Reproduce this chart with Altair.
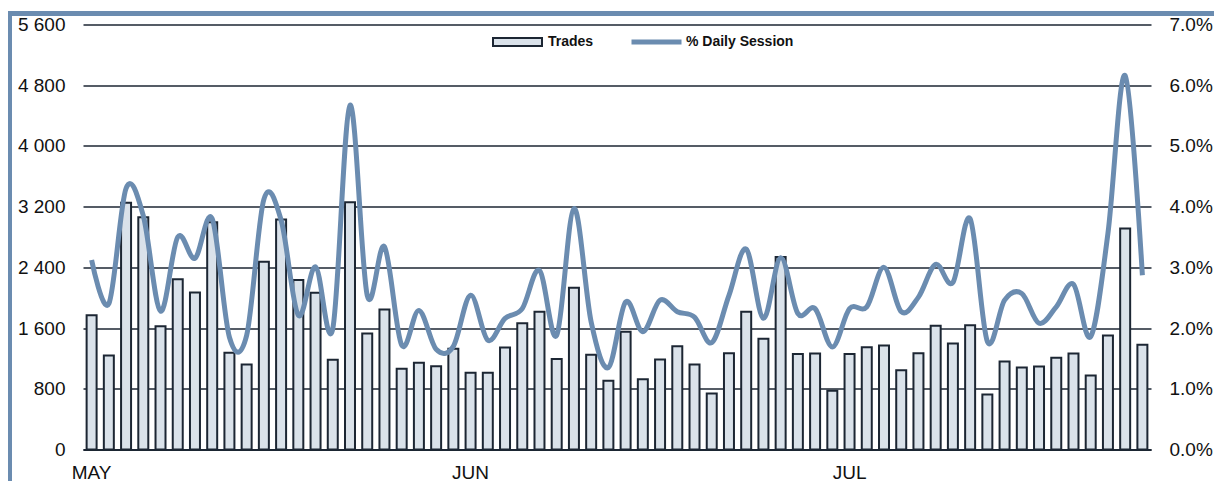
import altair as alt
import pandas as pd

# Daily trades (bars, left axis)
trades = [1770, 1238, 3250, 3061, 1625, 2244, 2068, 2995, 1274, 1120,
          2475, 3030, 2235, 2064, 1181, 3258, 1528, 1844, 1063, 1142,
          1098, 1326, 1010, 1010, 1344, 1664, 1814, 1194, 2130, 1247,
          905, 1550, 927, 1186, 1361, 1120, 738, 1269, 1814, 1458,
          2538, 1260, 1265, 773, 1260, 1348, 1370, 1045, 1269, 1629,
          1397, 1638, 725, 1159, 1080, 1093, 1208, 1265, 975, 1502,
          2912, 1379]

# % of daily session (line, right axis)
pct = [3.12, 2.40, 4.30, 3.85, 2.28, 3.50, 3.15, 3.80, 1.85, 1.88,
       4.12, 3.78, 2.21, 3.01, 1.99, 5.67, 2.54, 3.34, 1.72, 2.29,
       1.65, 1.70, 2.54, 1.80, 2.16, 2.32, 2.95, 1.88, 3.97, 2.10,
       1.35, 2.43, 1.94, 2.46, 2.27, 2.18, 1.76, 2.54, 3.30, 2.16,
       3.16, 2.24, 2.32, 1.69, 2.32, 2.35, 3.00, 2.27, 2.51, 3.05,
       2.75, 3.80, 1.78, 2.46, 2.57, 2.08, 2.35, 2.72, 1.86, 3.56,
       6.16, 2.87]

month_pos = [0, 22, 44]
month_names = ["MAY", "JUN", "JUL"]

left_ticks = [0, 800, 1600, 2400, 3200, 4000, 4800, 5600]
right_ticks = [0, 1, 2, 3, 4, 5, 6, 7]

df = pd.DataFrame({"day": list(range(len(trades))), "trades": trades, "pct": pct})

FONT = "Liberation Sans"
DARK = "#1c2633"
BLUE = "#6b8cb0"
BARFILL = "#dae2ea"

pos_arr = "[" + ",".join(str(p) for p in month_pos) + "]"
name_arr = "[" + ",".join("'" + n + "'" for n in month_names) + "]"
x_label_expr = f"indexof({pos_arr}, datum.value) >= 0 ? {name_arr}[indexof({pos_arr}, datum.value)] : ''"

x_enc = alt.X(
    "day:O",
    scale=alt.Scale(paddingInner=0.42),
    axis=alt.Axis(
        title=None, values=month_pos, labelExpr=x_label_expr, labelAngle=0,
        ticks=False, domain=True, domainColor=DARK, domainWidth=2,
        labelFont=FONT, labelFontSize=19, labelColor="#111111", labelPadding=14,
        labelAlign="center", labelBaseline="top", grid=False,
    ),
)

bars = alt.Chart(df).transform_calculate(series="'Trades'").mark_bar(
    stroke=DARK, strokeWidth=2
).encode(
    x=x_enc,
    y=alt.Y(
        "trades:Q",
        scale=alt.Scale(domain=[0, 5600], nice=False),
        axis=alt.Axis(
            title=None, values=left_ticks, orient="left",
            labelExpr="replace(format(datum.value, ','), ',', ' ')",
            ticks=False, domain=False, grid=True, gridColor=DARK, gridWidth=1.5,
            gridOpacity=1, labelFont=FONT, labelFontSize=19, labelColor="#111111",
            labelPadding=18,
        ),
    ),
    fill=alt.Fill(
        "series:N",
        scale=alt.Scale(domain=["Trades"], range=[BARFILL]),
        legend=alt.Legend(
            title=None, orient="none", legendX=409, legendY=-8,
            symbolType="M-1,-0.16L1,-0.16L1,0.16L-1,0.16Z", symbolSize=2401,
            symbolStrokeColor=DARK, symbolStrokeWidth=2, symbolOpacity=1,
            labelFont=FONT, labelFontSize=14, labelFontWeight="bold",
            labelColor="#111111", labelOffset=5,
        ),
    ),
)

line = alt.Chart(df).transform_calculate(series2="'% Daily Session'").mark_line(
    strokeWidth=5, interpolate="cardinal"
).encode(
    x=alt.X("day:O"),
    y=alt.Y(
        "pct:Q",
        scale=alt.Scale(domain=[0, 7], nice=False),
        axis=alt.Axis(
            title=None, values=right_ticks, orient="right",
            labelExpr="format(datum.value, '.1f') + '%'",
            ticks=False, domain=False, grid=False,
            labelFont=FONT, labelFontSize=19, labelColor="#111111",
            labelPadding=18,
        ),
    ),
    stroke=alt.Stroke(
        "series2:N",
        scale=alt.Scale(domain=["% Daily Session"], range=[BLUE]),
        legend=alt.Legend(
            title=None, orient="none", legendX=546, legendY=-10,
            symbolType="stroke", symbolSize=2500, symbolStrokeWidth=5,
            labelFont=FONT, labelFontSize=14, labelFontWeight="bold",
            labelColor="#111111", labelOffset=2,
        ),
    ),
)

frame_df = pd.DataFrame({"k": [0]})
frame_top = alt.Chart(frame_df).mark_rule(color=BLUE, strokeWidth=5).encode(
    x=alt.value(-75), x2=alt.value(1131), y=alt.value(-11)
)
frame_left = alt.Chart(frame_df).mark_rule(color=BLUE, strokeWidth=4).encode(
    x=alt.value(-73), y=alt.value(-13.5), y2=alt.value(460)
)

chart = alt.layer(bars, line, frame_top, frame_left).resolve_scale(
    y="independent", fill="independent", stroke="independent"
).properties(
    width=1068, height=425,
    background="white",
    autosize=alt.AutoSizeParams(type="none"),
    padding={"left": 75, "top": 16.5, "right": 63, "bottom": 32},
).configure_view(strokeWidth=0)

chart.save("out.html", embed_options={"renderer": "svg", "actions": False})
